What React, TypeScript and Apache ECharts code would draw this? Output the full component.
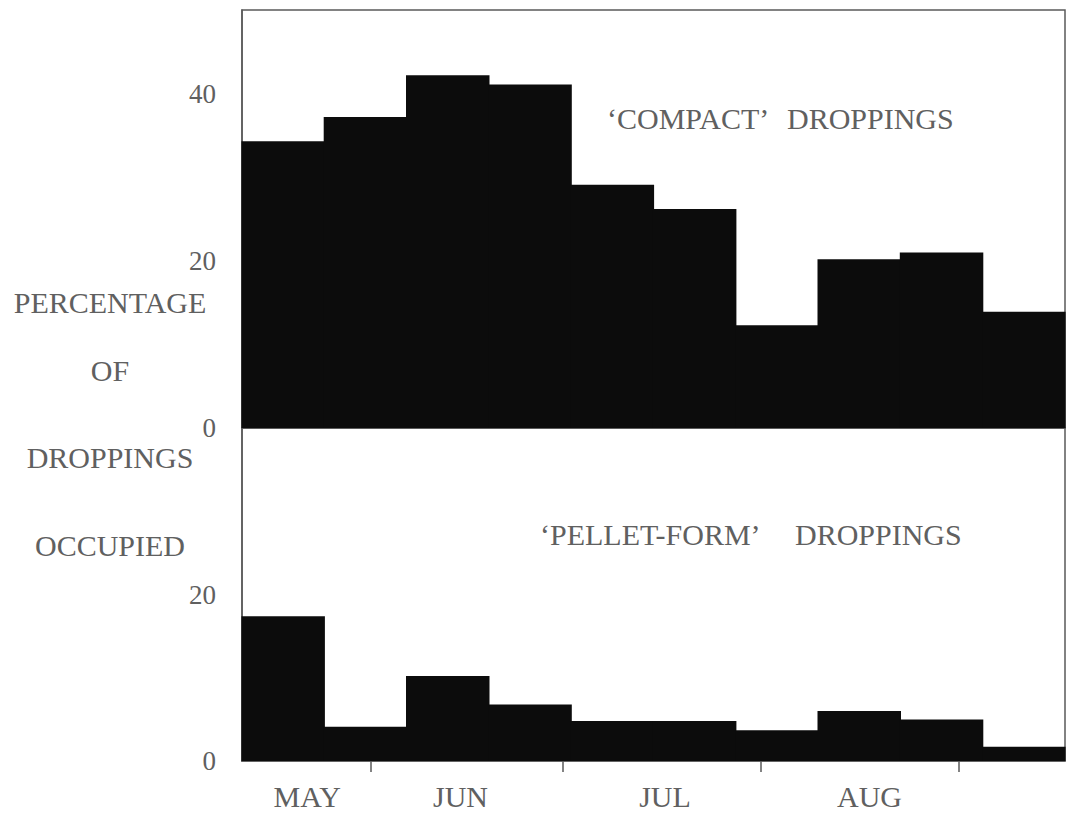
import React, { useEffect, useRef } from "react";
import * as echarts from "echarts";

// Ten consecutive sampling periods (mid-May to mid-September)
const periods = ["1", "2", "3", "4", "5", "6", "7", "8", "9", "10"];
// Percentage of 'compact' droppings occupied
const compactValues = [34.3, 37.2, 42.2, 41.1, 29.1, 26.2, 12.3, 20.2, 21.0, 13.9];
// Percentage of 'pellet-form' droppings occupied
const pelletValues = [17.4, 4.1, 10.2, 6.8, 4.8, 4.8, 3.7, 6.0, 5.0, 1.7];

// Time axis (days counted from 1 May)
const dayAxisMin = 10.8;
const dayAxisMax = 139.6;
const monthBoundaryDays = [31, 61, 92, 123];
const monthLabelDays = [21, 45, 77, 109];
const monthNames = ["MAY", "JUN", "JUL", "AUG"];

const topMax = 50;
const bottomMax = 40;
const yInterval = 20;

const yTitleLines = ["PERCENTAGE", "OF", "DROPPINGS", "OCCUPIED"];

const FONT = "'Liberation Serif', 'Times New Roman', serif";
const TEXT = "#606060";
const LINE = "#5a5a5a";
const BAR = "#0c0c0c";

function renderBar(params: any, api: any) {
  const idx = api.value(0);
  const top = api.coord([idx, api.value(1)]);
  const base = api.coord([idx, 0]);
  const w = api.size([1, 0])[0];
  return {
    type: "rect",
    shape: {
      x: top[0] - w / 2 - 0.6,
      y: top[1],
      width: w + 1.2,
      height: base[1] - top[1],
    },
    style: { fill: BAR },
  };
}

export default function App() {
  const ref = useRef<HTMLDivElement>(null);

  useEffect(() => {
    if (!ref.current) return;
    const chart = echarts.init(ref.current, null, { renderer: "svg" });

    const yAxisCommon = {
      type: "value" as const,
      min: 0,
      interval: yInterval,
      axisLine: { show: true, lineStyle: { color: LINE, width: 1.5 } },
      axisTick: { show: false },
      splitLine: { show: false },
      axisLabel: {
        showMaxLabel: false,
        color: TEXT,
        fontFamily: FONT,
        fontSize: 27,
        margin: 26,
      },
    };

    const option: any = {
      animation: false,
      backgroundColor: "#ffffff",
      grid: [
        {
          left: 242,
          right: 11,
          top: 10,
          height: 418,
          show: true,
          borderColor: LINE,
          borderWidth: 1.5,
        },
        {
          left: 242,
          right: 11,
          top: 428,
          height: 333,
          show: true,
          borderColor: LINE,
          borderWidth: 1.5,
        },
      ],
      xAxis: [
        {
          type: "category",
          gridIndex: 0,
          data: periods,
          position: "bottom",
          boundaryGap: true,
          axisLine: { show: true, lineStyle: { color: LINE, width: 1.5 } },
          axisTick: { show: false },
          axisLabel: { show: false },
        },
        {
          type: "category",
          gridIndex: 1,
          data: periods,
          position: "top",
          show: false,
        },
        {
          type: "value",
          gridIndex: 1,
          position: "bottom",
          min: dayAxisMin,
          max: dayAxisMax,
          splitLine: { show: false },
          axisLine: { show: true, lineStyle: { color: LINE, width: 1.5 } },
          axisTick: {
            show: true,
            inside: false,
            length: 11,
            customValues: monthBoundaryDays,
            lineStyle: { color: LINE, width: 1.5 },
          },
          axisLabel: {
            show: true,
            customValues: monthLabelDays,
            formatter: (v: number) => {
              const i = monthLabelDays.indexOf(v);
              return i >= 0 ? monthNames[i] : "";
            },
            color: TEXT,
            fontFamily: FONT,
            fontSize: 30,
            margin: 20,
          },
        },
      ],
      yAxis: [
        { ...yAxisCommon, gridIndex: 0, max: topMax },
        { ...yAxisCommon, gridIndex: 1, max: bottomMax },
      ],
      series: [
        {
          type: "custom",
          name: "compact",
          xAxisIndex: 0,
          yAxisIndex: 0,
          renderItem: renderBar,
          encode: { x: 0, y: 1 },
          data: compactValues.map((v, i) => [i, v]),
          z: 1,
        },
        {
          type: "custom",
          name: "pellet",
          xAxisIndex: 1,
          yAxisIndex: 1,
          renderItem: renderBar,
          encode: { x: 0, y: 1 },
          data: pelletValues.map((v, i) => [i, v]),
          z: 1,
        },
      ],
      graphic: [
        ...yTitleLines.map((t, i) => ({
          type: "text",
          x: 110,
          y: [302, 370, 457, 545][i],
          style: {
            text: t,
            fill: TEXT,
            font: `30px ${FONT}`,
            textAlign: "center",
            textVerticalAlign: "middle",
          },
        })),
        {
          type: "text",
          x: 607,
          y: 118,
          style: {
            text: "\u2018COMPACT\u2019",
            fill: TEXT,
            font: `30px ${FONT}`,
            textAlign: "left",
            textVerticalAlign: "middle",
          },
        },
        {
          type: "text",
          x: 787,
          y: 118,
          style: {
            text: "DROPPINGS",
            fill: TEXT,
            font: `30px ${FONT}`,
            textAlign: "left",
            textVerticalAlign: "middle",
          },
        },
        {
          type: "text",
          x: 540,
          y: 534,
          style: {
            text: "\u2018PELLET-FORM\u2019",
            fill: TEXT,
            font: `30px ${FONT}`,
            textAlign: "left",
            textVerticalAlign: "middle",
          },
        },
        {
          type: "text",
          x: 795,
          y: 534,
          style: {
            text: "DROPPINGS",
            fill: TEXT,
            font: `30px ${FONT}`,
            textAlign: "left",
            textVerticalAlign: "middle",
          },
        },
      ],
    };

    chart.setOption(option);
    return () => chart.dispose();
  }, []);

  return (
    <div
      ref={ref}
      style={{ position: "absolute", left: 0, top: 0, width: 1076, height: 814 }}
    />
  );
}
